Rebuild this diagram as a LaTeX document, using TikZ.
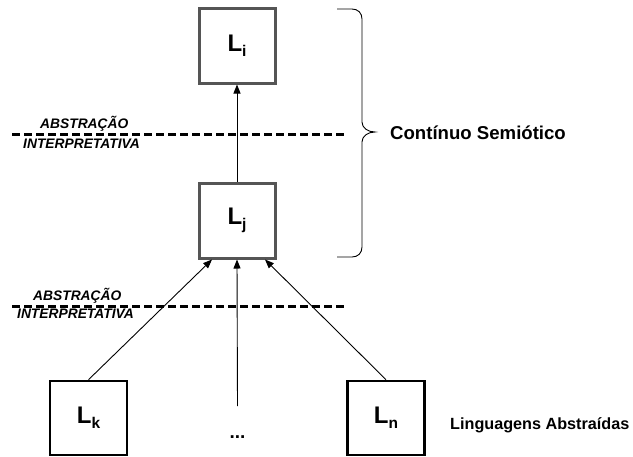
\documentclass[tikz,border=0pt]{standalone}
\usepackage{fontspec}
\setmainfont{Liberation Sans}
\usetikzlibrary{arrows.meta,calc}
\definecolor{boxgray}{HTML}{555555}
\newcommand{\Lab}[1]{{\fontsize{24}{24}\selectfont\bfseries L\raisebox{-5pt}{\fontsize{15.5}{15.5}\selectfont #1}}}
\begin{document}
\begin{tikzpicture}[x=1pt,y=-1pt,
  upbox/.style={draw=boxgray,line width=3pt,minimum width=76pt,minimum height=75pt,inner sep=0pt,fill=white},
  lowbox/.style={draw=black,line width=2.6pt,minimum width=77pt,minimum height=74pt,inner sep=0pt,fill=white},
  conn/.style={line width=0.9pt,-{Triangle[length=9pt,width=7pt]}},
  divline/.style={line width=3pt,dash pattern=on 8pt off 4pt},
  abst/.style={font=\fontsize{13.8}{14}\selectfont\bfseries\itshape,inner sep=0pt,anchor=base west},
  lbl/.style={inner sep=0pt,anchor=base west}]
\useasboundingbox (0,0) rectangle (633,456);
% dashed separators
\draw[divline] (12,134) -- (347,134);
\draw[divline] (12,306) -- (347,306);
\node[abst] (a1) at (40,128) {ABSTRAÇÃO};
\node[abst] (i1) at (23,148) {INTERPRETATIVA};
\node[abst] (a2) at (33,300) {ABSTRAÇÃO};
\node[abst] (i2) at (17,318.5) {INTERPRETATIVA};
% boxes
\node[upbox] (Li) at (237,45.5) {\Lab{i}};
\node[upbox] (Lj) at (237,220.5) {\Lab{j}};
\node[lowbox] (Lk) at (88.5,418) {\Lab{k}};
\node[lowbox] (Ln) at (386,418) {\Lab{n}};
\node[inner sep=0pt,anchor=base,font=\fontsize{19}{19}\selectfont\bfseries] (dots) at (237.5,438) {...};
\coordinate (mid) at (237.5,406);
% connectors
\draw[conn] (Lj.north) -- (Li.south);
\draw[conn] (Lk.north) -- ($(Lj.south)+(-25,0)$);
\draw[conn] (mid) -- (Lj.south);
\draw[conn] (Ln.north) -- ($(Lj.south)+(28,0)$);
% brace
\draw[line width=0.9pt] (337,9) -- (352,9) .. controls (358,9) and (362,13) .. (362,19)
  -- (362,122) .. controls (362,128) and (368,132) .. (375,132)
  .. controls (368,132) and (362,136) .. (362,142)
  -- (362,247) .. controls (362,253) and (358,257) .. (352,257) -- (337,257);
\node[lbl,font=\fontsize{18.6}{19}\selectfont\bfseries] (cs) at (390,139) {Contínuo Semiótico};
\node[lbl,font=\fontsize{16.2}{17}\selectfont\bfseries] (la) at (450,429) {Linguagens Abstraídas};
\end{tikzpicture}
\end{document}
